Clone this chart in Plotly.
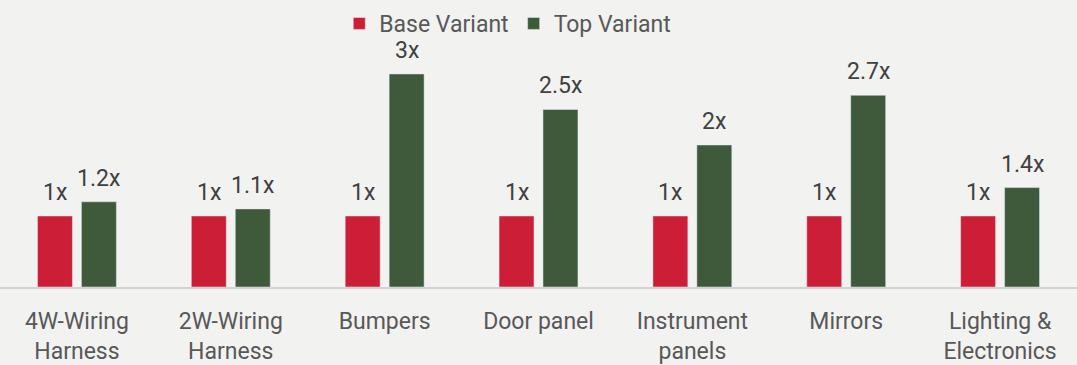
import plotly.graph_objects as go

categories = ["4W-Wiring<br>Harness", "2W-Wiring<br>Harness", "Bumpers", "Door panel",
              "Instrument<br>panels", "Mirrors", "Lighting &<br>Electronics"]
base_variant = [1, 1, 1, 1, 1, 1, 1]
top_variant = [1.2, 1.1, 3, 2.5, 2, 2.7, 1.4]

RED = "#CC1F37"
GREEN = "#3E5A3B"
LABEL = "#404040"
GREY = "#585858"
FONT = "Roboto, 'Noto Sans', sans-serif"
SIZE = 23

fig = go.Figure()
fig.add_trace(go.Bar(name="Base Variant", x=categories, y=base_variant, marker_color=RED))
fig.add_trace(go.Bar(name="Top Variant", x=categories, y=top_variant, marker_color=GREEN))

# value labels above each bar, shifted onto the left/right bar of each group
for values, shift in ((base_variant, -22), (top_variant, 22)):
    for cat, v in zip(categories, values):
        fig.add_annotation(x=cat, y=v, xref="x", yref="y", text=f"{v:g}x",
                           showarrow=False, xshift=shift, yanchor="bottom", yshift=8,
                           font=dict(size=SIZE, color=LABEL, family=FONT))

fig.update_layout(
    width=1077, height=365,
    margin=dict(l=0, r=0, t=45, b=78),
    paper_bgcolor="#F2F2F1", plot_bgcolor="#F2F2F1",
    barmode="group", bargap=0.4286, bargroupgap=0.2045,
    font=dict(family=FONT, color=GREY, size=SIZE),
    legend=dict(orientation="h", x=0.315, xanchor="left", y=1.0, yanchor="bottom",
                font=dict(size=SIZE, color=GREY), bgcolor="rgba(0,0,0,0)",
                itemwidth=30, tracegroupgap=0),
    showlegend=True,
)
fig.update_xaxes(showgrid=False, showline=True, linecolor="#D3D3D3", linewidth=2,
                 ticks="", ticklabelstandoff=12, tickfont=dict(size=SIZE, color=GREY))
fig.update_yaxes(visible=False, range=[0, 3.408], showgrid=False, zeroline=False)

fig.write_html("out.html")
